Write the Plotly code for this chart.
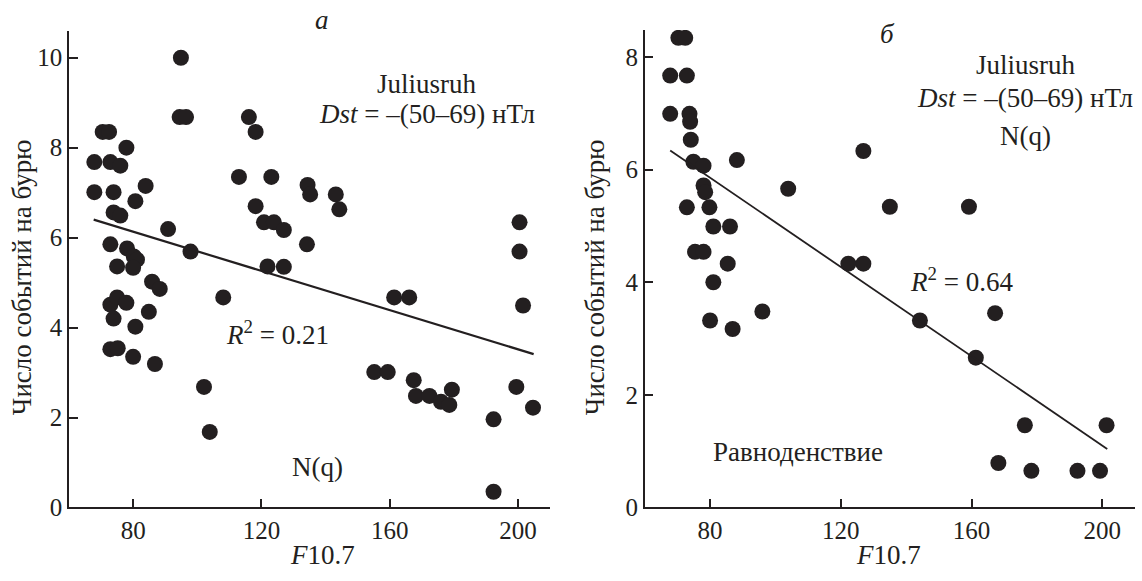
import plotly.graph_objects as go

# ---- Panel a data (F10.7 vs number of events per storm) ----
a_x = [94.9, 94.5, 96.5, 70.5, 72.5, 77.9, 67.9, 72.9, 76.0, 67.9, 73.9, 83.9, 80.7,
       73.9, 76.0, 90.9, 97.9, 72.9, 78.1, 80.2, 81.2, 75.0, 80.0, 85.9, 88.3,
       113.0, 116.1, 118.2, 123.1, 118.2, 120.8, 123.9, 127.0, 121.9, 127.0,
       134.4, 135.2, 143.2, 144.3, 134.2, 200.5, 200.5,
       72.9, 75.0, 77.9, 73.9, 84.9, 80.7, 72.9, 75.2, 80.0, 86.8, 102.1, 103.9, 108.1,
       161.4, 166.1, 201.6, 155.2, 159.4, 167.5, 168.2, 172.4, 176.0, 178.6, 179.4,
       199.5, 204.7, 192.4, 192.4]
a_y = [10.0, 8.68, 8.68, 8.35, 8.35, 8.0, 7.68, 7.68, 7.6, 7.01, 7.01, 7.15, 6.81,
       6.56, 6.49, 6.19, 5.69, 5.85, 5.76, 5.58, 5.51, 5.36, 5.33, 5.02, 4.86,
       7.35, 8.68, 8.35, 7.35, 6.70, 6.34, 6.34, 6.17, 5.36, 5.35,
       7.17, 6.96, 6.96, 6.63, 5.85, 6.34, 5.69,
       4.51, 4.67, 4.55, 4.20, 4.35, 4.02, 3.52, 3.54, 3.35, 3.19, 2.68, 1.68, 4.67,
       4.67, 4.67, 4.49, 3.01, 3.01, 2.83, 2.48, 2.48, 2.35, 2.28, 2.62,
       2.68, 2.22, 1.96, 0.35]
a_fit_x = [67.7, 204.9]
a_fit_y = [6.40, 3.41]

# ---- Panel б data ----
b_x = [70.3, 72.4, 67.8, 72.9, 67.8, 73.7, 73.9, 74.1, 74.9, 78.0, 88.2, 78.0, 78.5,
       72.9, 79.8, 81.0, 86.1, 75.4, 78.0, 85.4, 81.0, 103.9, 122.3, 126.9, 126.9,
       135.0, 159.2, 80.0, 86.9, 96.0, 144.2, 161.3, 167.2, 176.3, 201.3,
       168.2, 178.3, 192.4, 199.3]
b_y = [8.34, 8.34, 7.67, 7.67, 6.99, 6.99, 6.85, 6.53, 6.14, 6.07, 6.17, 5.72, 5.60,
       5.33, 5.33, 4.99, 4.99, 4.54, 4.54, 4.33, 4.00, 5.66, 4.33, 4.33, 6.33,
       5.34, 5.34, 3.32, 3.17, 3.48, 3.32, 2.66, 3.45, 1.46, 1.46,
       0.79, 0.65, 0.65, 0.65]
b_fit_x = [67.8, 201.5]
b_fit_y = [6.34, 1.04]

x_ticks = [80, 120, 160, 200]
a_y_ticks = [0, 2, 4, 6, 8, 10]
b_y_ticks = [0, 2, 4, 6, 8]

INK = "#231f20"
FONT = "Liberation Serif, Times New Roman, serif"
W, H = 1142, 581
TXT = 27

fig = go.Figure()
fig.add_trace(go.Scatter(x=a_x, y=a_y, mode="markers", xaxis="x", yaxis="y",
                         marker=dict(size=16, color=INK, line=dict(width=0))))
fig.add_trace(go.Scatter(x=a_fit_x, y=a_fit_y, mode="lines", xaxis="x", yaxis="y",
                         line=dict(color=INK, width=2.2)))
fig.add_trace(go.Scatter(x=b_x, y=b_y, mode="markers", xaxis="x2", yaxis="y2",
                         marker=dict(size=16, color=INK, line=dict(width=0))))
fig.add_trace(go.Scatter(x=b_fit_x, y=b_fit_y, mode="lines", xaxis="x2", yaxis="y2",
                         line=dict(color=INK, width=1.8)))

def px_x(p):
    return p / W

def px_y(p):
    return 1 - p / H

axis_common = dict(showline=True, linecolor=INK, linewidth=1.5, ticks="inside",
                   ticklen=9, tickwidth=1.5, tickcolor=INK, showgrid=False,
                   zeroline=False, tickfont=dict(family=FONT, size=25, color=INK))

fig.update_layout(
    width=W, height=H, margin=dict(l=0, r=0, t=0, b=0),
    paper_bgcolor="white", plot_bgcolor="white", showlegend=False,
    font=dict(family=FONT, size=TXT, color=INK),
    xaxis=dict(domain=[px_x(69), px_x(550)], range=[60, 210], tickvals=x_ticks,
               anchor="y", **axis_common),
    yaxis=dict(domain=[px_y(520), px_y(31.5)], range=[0, 10.6], tickvals=a_y_ticks,
               anchor="x", **axis_common),
    xaxis2=dict(domain=[px_x(644.7), px_x(1135)], range=[60, 210], tickvals=x_ticks,
                anchor="y2", **axis_common),
    yaxis2=dict(domain=[px_y(520), px_y(30.7)], range=[0, 8.48], tickvals=b_y_ticks,
                anchor="x2", **axis_common),
)

def ann(text, x, y, xref, yref, **kw):
    d = dict(text=text, x=x, y=y, xref=xref, yref=yref, showarrow=False,
             font=dict(family=FONT, size=TXT, color=INK), xanchor="center", yanchor="middle")
    d.update(kw)
    fig.add_annotation(**d)

# panel a texts
ann("<i>а</i>", px_x(322), px_y(20), "paper", "paper")
ann("Juliusruh", 171.6, 9.42, "x", "y")
ann("<i>Dst</i> = –(50–69) нТл", 171.6, 8.74, "x", "y")
ann("<i>R</i><sup>2</sup> = 0.21", 125.1, 3.88, "x", "y")
ann("N(q)", 137.6, 0.91, "x", "y")
# panel б texts
ann("<i>б</i>", px_x(887), px_y(35), "paper", "paper")
ann("Juliusruh", 176.5, 7.86, "x2", "y2")
ann("<i>Dst</i> = –(50–69) нТл", 176.3, 7.28, "x2", "y2")
ann("N(q)", 176.5, 6.59, "x2", "y2")
ann("<i>R</i><sup>2</sup> = 0.64", 156.9, 4.04, "x2", "y2")
ann("Равноденствие", 107.0, 0.98, "x2", "y2")

# axis titles
ann("Число событий на бурю", px_x(22), px_y(284), "paper", "paper", textangle=-90)
ann("Число событий на бурю", px_x(595), px_y(284), "paper", "paper", textangle=-90)
ann("<i>F</i>10.7", px_x(322), px_y(569), "paper", "paper")
ann("<i>F</i>10.7", px_x(888), px_y(569), "paper", "paper")

fig.write_html("out.html")
